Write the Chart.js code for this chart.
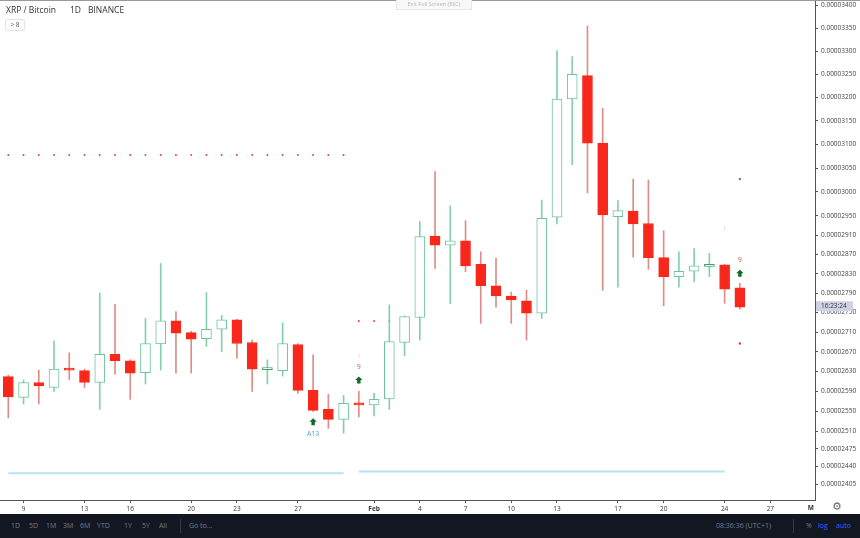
<!DOCTYPE html>
<html>
<head>
<meta charset="utf-8">
<script src="https://cdn.jsdelivr.net/npm/chart.js@4.4.0/dist/chart.umd.min.js"></script>
<style>
  html, body { margin: 0; padding: 0; background: #fff; }
  #wrap { position: relative; width: 860px; height: 538px; overflow: hidden; font-family: 'Open Sans', sans-serif; }
  #chart { position: absolute; left: 0; top: 0; }
  .abs { position: absolute; white-space: nowrap; }
  .title { top: 4px; font-size: 8.5px; line-height: 11px; color: #333; }
  .legendBox { left: 5px; top: 19px; width: 18px; height: 10px; border: 1px solid #e0e3eb; border-radius: 2px;
               font-size: 6.5px; line-height: 10px; color: #555; text-align: center; }
  .topLine { left: 0; top: 0; width: 860px; height: 1px; background: #999; }
  .exitTip { left: 396px; top: 0; width: 74px; height: 9px; background: #f8f8f8; border: 1px solid #e8e8e8; border-top: 0;
             font-size: 5.5px; line-height: 9px; color: #b5b5b5; text-align: center; }
  .toolbar { left: 0; top: 514px; width: 860px; height: 24px; background: #131722; }
  .tb { top: 521px; font-size: 7px; line-height: 10px; color: #787b86; }
  .sep { top: 519px; width: 1px; height: 14px; background: #363a45; }
  .blue { color: #2962ff; }
  .gear { left: 832px; top: 500px; font-family: 'DejaVu Sans', sans-serif; font-size: 11px; line-height: 13px; color: #666; }
</style>
</head>
<body>
<div id="wrap">
  <canvas id="chart" width="860" height="538"></canvas>
  <div class="abs topLine"></div>
  <div class="abs exitTip">Exit Full Screen (ESC)</div>
  <div class="abs title" style="left:6px">XRP / Bitcoin</div>
  <div class="abs title" style="left:70px">1D</div>
  <div class="abs title" style="left:88px">BINANCE</div>
  <div class="abs legendBox">&gt; 8</div>
  <div class="abs gear">⚙</div>
  <div class="abs toolbar"></div>
  <div class="abs tb" style="left:11px">1D</div>
  <div class="abs tb" style="left:29px">5D</div>
  <div class="abs tb" style="left:46px">1M</div>
  <div class="abs tb" style="left:63px">3M</div>
  <div class="abs tb" style="left:80px">6M</div>
  <div class="abs tb" style="left:97px">YTD</div>
  <div class="abs tb" style="left:124px">1Y</div>
  <div class="abs tb" style="left:142px">5Y</div>
  <div class="abs tb" style="left:159px">All</div>
  <div class="abs sep" style="left:180px"></div>
  <div class="abs tb" style="left:189px">Go to...</div>
  <div class="abs tb" style="left:716px">08:36:36 (UTC+1)</div>
  <div class="abs sep" style="left:793px"></div>
  <div class="abs tb" style="left:806px">%</div>
  <div class="abs tb blue" style="left:818px">log</div>
  <div class="abs tb blue" style="left:836px">auto</div>
</div>
<script>
// XRP/BTC daily candles, Jan 8 - Feb 25, in units of 0.00000001 BTC
const opens  = [2620, 2578, 2608, 2598, 2637, 2632, 2608, 2665, 2652, 2628, 2686, 2733, 2709, 2697, 2716, 2735, 2689,
                2634, 2632, 2685, 2592, 2554, 2534, 2567, 2563, 2575, 2689, 2740, 2908, 2889, 2898, 2849, 2805, 2784,
                2774, 2749, 2947, 3197, 3247, 3103, 2948, 2960, 2934, 2863, 2824, 2835, 2845, 2848, 2801];
const highs  = [2623, 2613, 2633, 2692, 2668, 2635, 2790, 2767, 2654, 2738, 2851, 2752, 2712, 2791, 2744, 2736, 2694,
                2654, 2729, 2687, 2664, 2584, 2582, 2590, 2586, 2766, 2743, 2938, 3043, 2971, 2940, 2875, 2862, 2792,
                2796, 2983, 3301, 3288, 3354, 3177, 2982, 3027, 3025, 2919, 2875, 2882, 2872, 2849, 2810];
const lows   = [2537, 2565, 2565, 2590, 2614, 2598, 2554, 2625, 2574, 2605, 2633, 2627, 2627, 2681, 2670, 2657, 2590,
                2605, 2621, 2586, 2550, 2516, 2506, 2539, 2541, 2554, 2662, 2694, 2841, 2768, 2834, 2728, 2761, 2728,
                2694, 2738, 2933, 3057, 2998, 2796, 2802, 2864, 2839, 2764, 2802, 2813, 2824, 2769, 2757];
const closes = [2579, 2608, 2601, 2635, 2633, 2608, 2665, 2652, 2627, 2687, 2733, 2708, 2696, 2716, 2735, 2687, 2635,
                2636, 2687, 2592, 2552, 2534, 2566, 2563, 2574, 2691, 2742, 2907, 2889, 2898, 2846, 2805, 2784, 2776,
                2749, 2945, 3197, 3250, 3103, 2952, 2961, 2933, 2863, 2824, 2835, 2846, 2847, 2798, 2761];

const yTicks = [3400, 3350, 3300, 3250, 3200, 3150, 3100, 3050, 3000, 2950, 2910, 2870, 2830,
                2790, 2750, 2710, 2670, 2630, 2590, 2550, 2510, 2475, 2440, 2405];
const xTickIdx  = [1, 5, 8, 12, 15, 19, 24, 27, 30, 33, 36, 40, 43, 47, 50];
const xTickText = ['9', '13', '16', '20', '23', '27', 'Feb', '4', '7', '10', '13', '17', '20', '24', '27'];

// TD sequential overlays
const resistFrom = [0, 23], resistTo = [22, 25], resistVal = [3078, 2733];
const supportFrom = [0, 23], supportTo = [22, 47], supportVal = [2427, 2430];
const dotIdx = [48, 48], dotVal = [3027, 2687];
const arrowIdx = [20, 23, 48], arrowVal = [2529, 2613, 2831];
const countIdx = [23, 48], countVal = [2640, 2858], countText = ['9', '9'];
const faintIdx = [23, 47], faintVal = [2660, 2922];
const a13Idx = [20], a13Val = [2504];
const countdown = '16:23:24';

const FONT = "'Open Sans', sans-serif";

// TradingView-like price axis: slightly compressed towards the top
const K = 7000;
class WarpScale extends Chart.LinearScale {
    getPixelForValue(value) {
        const lo = Math.log(this.min + K), hi = Math.log(this.max + K);
        return this.getPixelForDecimal((Math.log(value + K) - lo) / (hi - lo));
    }
    getValueForPixel(pixel) {
        const lo = Math.log(this.min + K), hi = Math.log(this.max + K);
        return Math.exp(lo + this.getDecimalForPixel(pixel) * (hi - lo)) - K;
    }
}
WarpScale.id = 'warp';
WarpScale.defaults = Chart.LinearScale.defaults;
Chart.register(WarpScale);

const isUp = opens.map((o, i) => closes[i] >= o);
const isDoji = opens.map((o, i) => Math.abs(closes[i] - o) < 3);

const bodyFill = isUp.map(u => u ? '#ffffff' : '#f7281b');
const bodyBorder = isUp.map((u, i) => u ? (isDoji[i] ? '#3f9f62' : '#6fc49a') : '#f7281b');
const wickColor = isUp.map(u => u ? '#86cfaa' : '#dc8e86');

function levelDataset(from, to, val, color, style) {
    return from.map((f, k) => Object.assign({
        type: 'line',
        data: [{ x: f, y: val[k] }, { x: to[k], y: val[k] }],
        borderColor: color,
        pointRadius: 0,
        fill: false
    }, style));
}

function drawArrow(ctx, px, py) {
    ctx.fillStyle = '#0d6b22';
    ctx.beginPath();
    ctx.moveTo(px, py - 3.5);
    ctx.lineTo(px + 3.7, py);
    ctx.lineTo(px + 1.7, py);
    ctx.lineTo(px + 1.7, py + 3.5);
    ctx.lineTo(px - 1.7, py + 3.5);
    ctx.lineTo(px - 1.7, py);
    ctx.lineTo(px - 3.7, py);
    ctx.closePath();
    ctx.fill();
}

const tdMarks = {
    id: 'tdMarks',
    afterDatasetsDraw(chart) {
        const { ctx, scales: { x, y } } = chart;
        ctx.save();
        arrowIdx.forEach((i, k) => drawArrow(ctx, x.getPixelForValue(i), y.getPixelForValue(arrowVal[k])));
        ctx.textAlign = 'center';
        ctx.textBaseline = 'middle';
        ctx.font = '6.5px ' + FONT;
        ctx.fillStyle = '#c9514c';
        countIdx.forEach((i, k) => ctx.fillText(countText[k], x.getPixelForValue(i), y.getPixelForValue(countVal[k])));
        ctx.font = '5px ' + FONT;
        ctx.fillStyle = '#f0bb90';
        faintIdx.forEach((i, k) => ctx.fillText('1', x.getPixelForValue(i), y.getPixelForValue(faintVal[k])));
        ctx.font = '7px ' + FONT;
        ctx.fillStyle = '#4fa3d9';
        a13Idx.forEach((i, k) => ctx.fillText('A13', x.getPixelForValue(i), y.getPixelForValue(a13Val[k])));
        ctx.restore();
    },
    afterDraw(chart) {
        const { ctx, chartArea, scales: { y } } = chart;
        ctx.save();
        // clipped month label at the right edge of the time axis
        ctx.font = 'bold 6.5px ' + FONT;
        ctx.fillStyle = '#333';
        ctx.textAlign = 'right';
        ctx.textBaseline = 'middle';
        ctx.fillText('M', chartArea.right - 1, 508);
        // countdown label on the price axis
        const py = y.getPixelForValue(closes[closes.length - 1]) - 1;
        ctx.fillStyle = '#cfd2e6';
        ctx.fillRect(chartArea.right + 1, py - 5, 37, 10);
        ctx.fillStyle = '#333';
        ctx.font = '6.5px ' + FONT;
        ctx.textAlign = 'left';
        ctx.fillText(countdown, chartArea.right + 6, py);
        ctx.restore();
    }
};

const ctx = document.getElementById('chart');
new Chart(ctx, {
    type: 'bar',
    data: {
        datasets: [
            {
                data: opens.map((o, i) => ({ x: i, y: [o, closes[i]] })),
                backgroundColor: bodyFill,
                borderColor: bodyBorder,
                borderWidth: 1,
                borderSkipped: false,
                barThickness: 10,
                minBarLength: 2,
                grouped: false
            },
            {
                data: lows.map((l, i) => ({ x: i, y: [l, highs[i]] })),
                backgroundColor: wickColor,
                borderWidth: 0,
                barThickness: 1,
                grouped: false
            },
            ...levelDataset(resistFrom, resistTo, resistVal, '#e5463c',
                { borderWidth: 2, borderDash: [0, 15.239], borderCapStyle: 'round' }),
            ...levelDataset(supportFrom, supportTo, supportVal, '#b9e2f0', { borderWidth: 2 }),
            {
                type: 'line',
                data: dotIdx.map((i, k) => ({ x: i, y: dotVal[k] })),
                showLine: false,
                pointRadius: 1.2,
                pointBorderWidth: 0,
                pointBackgroundColor: '#b2456a'
            }
        ]
    },
    options: {
        responsive: false,
        animation: false,
        events: [],
        layout: { padding: 0, autoPadding: false },
        plugins: { legend: { display: false }, tooltip: { enabled: false } },
        scales: {
            x: {
                type: 'linear',
                min: -0.545,
                max: 52.93,
                offset: false,
                afterBuildTicks: s => { s.ticks = xTickIdx.map(v => ({ value: v })); },
                afterFit: s => { s.height = 38; s.paddingLeft = 0; s.paddingRight = 0; },
                grid: { drawOnChartArea: false, offset: false, tickLength: 3, color: '#555' },
                border: { color: '#555' },
                ticks: {
                    autoSkip: false,
                    maxRotation: 0,
                    padding: 2,
                    color: '#333',
                    font: c => ({ size: 6.5, family: FONT, weight: xTickText[c.index] === 'Feb' ? 'bold' : 'normal' }),
                    callback: (v, i) => xTickText[i]
                }
            },
            y: {
                type: 'warp',
                position: 'right',
                bounds: 'data',
                min: 2374,
                max: 3411,
                afterBuildTicks: s => { s.ticks = yTicks.map(v => ({ value: v })); },
                afterFit: s => { s.width = 45; s.paddingTop = 0; s.paddingBottom = 0; },
                grid: { drawOnChartArea: false, tickLength: 3, color: '#555' },
                border: { color: '#555' },
                ticks: {
                    autoSkip: false,
                    padding: 3,
                    color: '#444',
                    font: { size: 6.5, family: FONT },
                    callback: v => '0.0000' + v
                }
            }
        }
    },
    plugins: [tdMarks]
});
</script>
</body>
</html>
